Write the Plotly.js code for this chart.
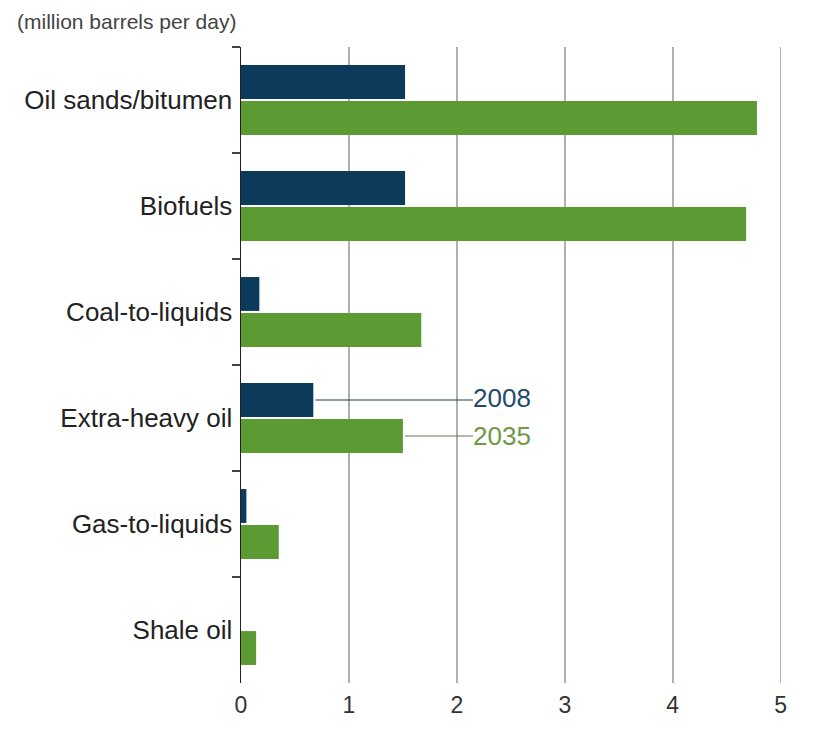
<!DOCTYPE html>
<html>
<head>
<meta charset="utf-8">
<script src="https://cdn.plot.ly/plotly-3.0.1.min.js"></script>
<style>html,body{margin:0;padding:0;background:#fff;}#chart{width:832px;height:731px;}</style>
</head>
<body>
<div id="chart"></div>
<script>
var categories = ["Oil sands/bitumen", "Biofuels", "Coal-to-liquids", "Extra-heavy oil", "Gas-to-liquids", "Shale oil"];
var values2008 = [1.52, 1.52, 0.17, 0.67, 0.05, 0.0];
var values2035 = [4.78, 4.68, 1.67, 1.50, 0.35, 0.14];
var seriesNames = ["2008", "2035"];
var xTicks = [0, 1, 2, 3, 4, 5];

var navy = "#0c3a5b";
var green = "#5c9a34";
var labelIdx = 3;
var bargap = 0.32;
var off = (1 - bargap) / 4;
var labelX = 2.15;

var traces = [
  {type: "bar", orientation: "h", name: seriesNames[0], y: categories, x: values2008,
   marker: {color: navy}, hoverinfo: "x+y"},
  {type: "bar", orientation: "h", name: seriesNames[1], y: categories, x: values2035,
   marker: {color: green}, hoverinfo: "x+y"}
];

var layout = {
  width: 832, height: 731,
  paper_bgcolor: "#fff", plot_bgcolor: "#fff",
  margin: {l: 241, r: 47, t: 47, b: 48},
  barmode: "group", bargap: bargap, bargroupgap: 0.06,
  showlegend: false,
  font: {family: "Liberation Sans, Arial, sans-serif", color: "#333"},
  title: {text: "(million barrels per day)", x: 17/832, xanchor: "left", xref: "container",
          y: 1 - 22/731, yanchor: "middle", yref: "container",
          font: {size: 21, color: "#444", family: "Liberation Sans, Arial, sans-serif"}},
  xaxis: {range: [0, 5.04], tickvals: xTicks, ticktext: xTicks.map(String),
          showgrid: true, gridcolor: "#b0b0b0", gridwidth: 1.5, zeroline: false,
          showline: false, ticks: "", ticklabelstandoff: 6,
          tickfont: {size: 23, color: "#333"}, fixedrange: true},
  yaxis: {type: "category", autorange: "reversed", showline: true, linecolor: "#222", linewidth: 1.5,
          ticks: "outside", tickson: "boundaries", ticklen: 8, tickcolor: "#444", tickwidth: 1.2,
          ticklabelstandoff: 2,
          showgrid: false, zeroline: false, tickfont: {size: 26, color: "#222"}, fixedrange: true},
  shapes: [
    {type: "line", xref: "x", yref: "y", x0: values2008[labelIdx] + 0.02, x1: labelX,
     y0: labelIdx - off, y1: labelIdx - off, line: {color: "#1f3a50", width: 1.2}},
    {type: "line", xref: "x", yref: "y", x0: values2035[labelIdx] + 0.02, x1: labelX,
     y0: labelIdx + off, y1: labelIdx + off, line: {color: "#5f7a50", width: 1.2}}
  ],
  annotations: [
    {xref: "x", yref: "y", x: labelX - 0.02, y: labelIdx - off, yshift: 2, text: seriesNames[0], showarrow: false,
     xanchor: "left", yanchor: "middle", font: {size: 26, color: "#1f4a6e"}},
    {xref: "x", yref: "y", x: labelX - 0.02, y: labelIdx + off, text: seriesNames[1], showarrow: false,
     xanchor: "left", yanchor: "middle", font: {size: 26, color: "#6f9a45"}}
  ]
};

Plotly.newPlot("chart", traces, layout, {displayModeBar: false, staticPlot: true});
</script>
</body>
</html>
